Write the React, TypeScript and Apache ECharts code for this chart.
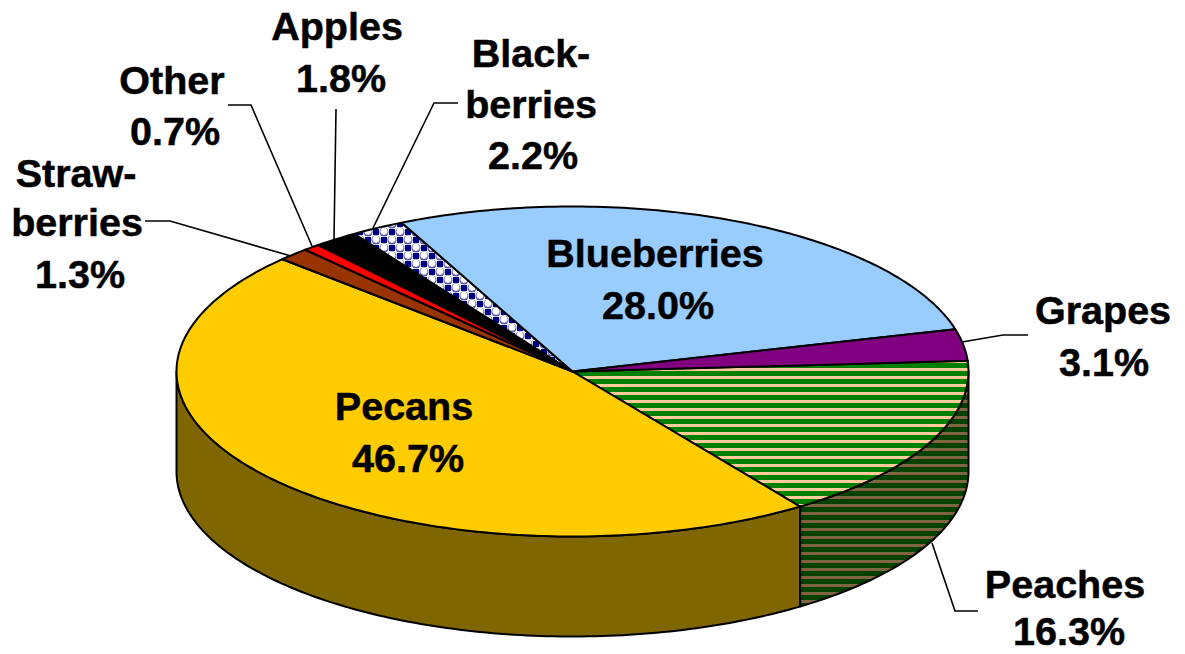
import React, { useEffect, useRef } from "react";
import * as echarts from "echarts";

// Clockwise from the right-hand edge of the pie
const categories = ["Peaches", "Pecans", "Strawberries", "Other", "Apples", "Blackberries", "Blueberries", "Grapes"];
const shares = [16.3, 46.7, 1.3, 0.7, 1.8, 2.2, 28.0, 3.1];
const labelTexts = [
  ["Peaches", "16.3%"],
  ["Pecans", "46.7%"],
  ["Straw-", "berries", "1.3%"],
  ["Other", "0.7%"],
  ["Apples", "1.8%"],
  ["Black-", "berries", "2.2%"],
  ["Blueberries", "28.0%"],
  ["Grapes", "3.1%"],
];

// Layout, separate from the data: the centre of each line of each label
const labelCentres = [
  [[1065, 584], [1069, 631]],
  [[404, 406], [408, 458]],
  [[76, 173], [77, 222], [80, 274]],
  [[172, 80], [175, 131]],
  [[337, 26], [341, 78]],
  [[531, 53], [531, 104], [533, 155]],
  [[655, 253], [658, 305]],
  [[1103, 310], [1104, 362]],
];
const leaderLines = [
  [[932, 543], [955, 611], [978, 611]],
  null,
  [[145, 221], [170, 221], [291, 256]],
  [[228, 105], [251, 105], [312, 246]],
  [[336, 109], [334, 239]],
  [[458, 103], [434, 103], [373, 228]],
  null,
  [[962, 342], [1003, 335], [1028, 335]],
];
const PIE = { cx: 572.5, cy: 371.5, rx: 396, ry: 165, depth: 100, startDeg: -3.7 };

function stripes(a: string, b: string) {
  const c = document.createElement("canvas");
  c.width = 8;
  c.height = 8;
  const g = c.getContext("2d")!;
  g.fillStyle = a;
  g.fillRect(0, 0, 8, 8);
  g.fillStyle = b;
  g.fillRect(0, 0, 8, 3);
  return c;
}

function dots() {
  const c = document.createElement("canvas");
  c.width = 16;
  c.height = 16;
  const g = c.getContext("2d")!;
  g.fillStyle = "#ffffff";
  g.fillRect(0, 0, 16, 16);
  g.fillStyle = "#000080";
  g.fillRect(0, 0, 3, 3);
  g.fillRect(13, 0, 3, 3);
  g.fillRect(0, 13, 3, 3);
  g.fillRect(13, 13, 3, 3);
  g.fillRect(5, 5, 6, 6);
  const ring = (x: number, y: number) => {
    g.fillStyle = "#5a5ab4";
    g.beginPath();
    g.arc(x, y, 4.6, 0, Math.PI * 2);
    g.fill();
    g.fillStyle = "#ffffff";
    g.beginPath();
    g.arc(x, y - 0.8, 3.5, 0, Math.PI * 2);
    g.fill();
  };
  ring(8, 0);
  ring(8, 16);
  ring(0, 8);
  ring(16, 8);
  return c;
}

const pattern = (image: HTMLCanvasElement) => ({ image, repeat: "repeat" });

export default function App() {
  const ref = useRef<HTMLDivElement>(null);

  useEffect(() => {
    const chart = echarts.init(ref.current!, undefined, { renderer: "svg" });
    const topFills: any[] = [
      pattern(stripes("#008000", "#ffcc99")),
      "#ffcc00",
      "#993300",
      "#ff0000",
      "#000000",
      pattern(dots()),
      "#99ccff",
      "#800080",
    ];
    const sideFills: any[] = [pattern(stripes("#004000", "#806640")), "#806600"];
    const total = shares.reduce((a, b) => a + b, 0);
    const point = (deg: number, dy = 0) => {
      const r = (deg * Math.PI) / 180;
      return [PIE.cx + PIE.rx * Math.cos(r), PIE.cy + PIE.ry * Math.sin(r) + dy];
    };
    const arc = (from: number, to: number, dy = 0) => {
      const n = Math.max(2, Math.ceil(Math.abs(to - from)));
      const pts: number[][] = [];
      for (let i = 0; i <= n; i++) pts.push(point(from + ((to - from) * i) / n, dy));
      return pts;
    };

    const renderItem = (params: any, api: any) => {
      const i = params.dataIndex;
      let before = 0;
      for (let k = 0; k < i; k++) before += shares[k];
      const a0 = PIE.startDeg + (before / total) * 360;
      const a1 = a0 + (api.value(0) / total) * 360;
      const children: any[] = [];
      const s0 = Math.max(a0, 0);
      const s1 = Math.min(a1, 180);
      if (s1 > s0) {
        children.push({
          type: "polygon",
          shape: { points: [...arc(s0, s1), ...arc(s1, s0, PIE.depth)] },
          style: { fill: sideFills[i] ?? "#806600", stroke: "#000", lineWidth: 2, lineJoin: "round" },
          z2: 1,
        });
      }
      children.push({
        type: "polygon",
        shape: { points: [[PIE.cx, PIE.cy], ...arc(a0, a1)] },
        style: { fill: topFills[i], stroke: "#000", lineWidth: 2, lineJoin: "round" },
        z2: 2,
      });
      return { type: "group", children };
    };

    const graphics: any[] = [];
    leaderLines.forEach((pts) => {
      if (pts) {
        graphics.push({
          type: "polyline",
          shape: { points: pts },
          style: { stroke: "#000", lineWidth: 1.6, fill: "none" },
          z: 20,
        });
      }
    });
    labelTexts.forEach((lines, i) => {
      lines.forEach((text, j) => {
        graphics.push({
          type: "text",
          x: labelCentres[i][j][0],
          y: labelCentres[i][j][1],
          z: 21,
          style: {
            text,
            fill: "#000",
            stroke: "#000",
            lineWidth: 0.5,
            font: 'bold 39.5px "Liberation Sans", Arial, sans-serif',
            align: "center",
            verticalAlign: "middle",
          },
        });
      });
    });

    chart.setOption({
      animation: false,
      backgroundColor: "#ffffff",
      series: [
        {
          type: "custom",
          coordinateSystem: "none",
          renderItem,
          silent: true,
          data: shares.map((v, i) => ({ name: categories[i], value: [v] })),
        },
      ],
      graphic: { elements: graphics },
    });
    return () => chart.dispose();
  }, []);

  return <div ref={ref} style={{ position: "absolute", left: 0, top: 0, width: 1185, height: 654 }} />;
}
